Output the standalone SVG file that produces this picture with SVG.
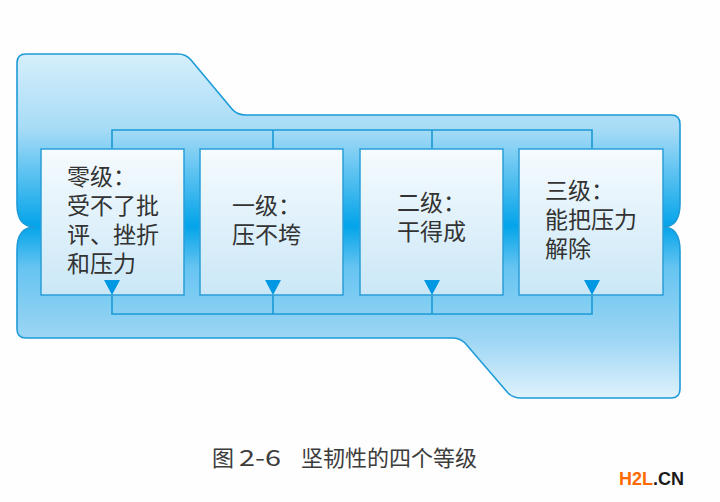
<svg xmlns="http://www.w3.org/2000/svg" width="720" height="502" viewBox="0 0 720 502">
<defs>
<linearGradient id="bg" gradientUnits="userSpaceOnUse" x1="0" y1="54" x2="0" y2="398">
<stop offset="0" stop-color="#d6effb"/>
<stop offset="0.22" stop-color="#a6dbf6"/>
<stop offset="0.5" stop-color="#03a4ea"/>
<stop offset="0.62" stop-color="#66c4f1"/>
<stop offset="0.83" stop-color="#9dd6f4"/>
<stop offset="1" stop-color="#dff2fc"/>
</linearGradient>
<linearGradient id="box" x1="0" y1="0" x2="0" y2="1">
<stop offset="0" stop-color="#f6fbfe"/>
<stop offset="1" stop-color="#cae7f7"/>
</linearGradient>
<style>
.box{fill:url(#box);stroke:#2a9fd8;stroke-width:1.5}
.t{font-family:"Noto Sans CJK SC","Noto Sans",sans-serif;font-size:23px;fill:#333}
.cap{font-family:"Noto Sans CJK SC","Noto Sans",sans-serif;font-size:22px;fill:#3c3c3c}
.ln{fill:none;stroke:#1a9ad6;stroke-width:1.6}
.tri{fill:#0098e2}
</style>
</defs>
<rect width="720" height="502" fill="#fefefe"/>
<path id="frame" d="M17,63 Q17,54 26,54 L178,54 Q186,54 191,60 L232,109 Q237,115 246,115 L671,115 Q680,115 680,124 L680,203 Q680,227 663,227 Q680,227 680,251 L680,389 Q680,398 671,398 L521,398 Q513,398 508,393 L465,343 Q460,338 452,338 L26,338 Q17,338 17,329 L17,250 Q17,227 35,227 Q17,227 17,204 Z" fill="url(#bg)" stroke="#1d9bd8" stroke-width="1.6"/>
<g id="connectors">
<path class="ln" d="M112,149 V130 H592 V149 M273,130 V149 M432,130 V149"/>
<path class="ln" d="M112,295 V314 H592 V295 M273,314 V295 M432,314 V295"/>
</g>
<g id="n0">
<rect class="box" x="41" y="149" width="143" height="146"/>
<path class="tri" d="M104,280 H120 L112,295 Z"/>
<text class="t"><tspan x="67" y="185">零级：</tspan><tspan x="67" y="214">受不了批</tspan><tspan x="67" y="243">评、挫折</tspan><tspan x="67" y="272">和压力</tspan></text>
</g>
<g id="n1">
<rect class="box" x="200" y="149" width="143" height="146"/>
<path class="tri" d="M265,280 H281 L273,295 Z"/>
<text class="t"><tspan x="232" y="214">一级：</tspan><tspan x="232" y="243">压不垮</tspan></text>
</g>
<g id="n2">
<rect class="box" x="360" y="149" width="143" height="146"/>
<path class="tri" d="M424,280 H440 L432,295 Z"/>
<text class="t"><tspan x="397" y="211">二级：</tspan><tspan x="397" y="240">干得成</tspan></text>
</g>
<g id="n3">
<rect class="box" x="519" y="149" width="144" height="146"/>
<path class="tri" d="M584,280 H600 L592,295 Z"/>
<text class="t"><tspan x="545" y="199">三级：</tspan><tspan x="545" y="228">能把压力</tspan><tspan x="545" y="257">解除</tspan></text>
</g>
<g id="caption">
<text class="cap" x="212" y="466">图</text>
<text class="cap" x="239" y="466" font-size="26" textLength="42" lengthAdjust="spacingAndGlyphs">2-6</text>
<text class="cap" x="301" y="466">坚韧性的四个等级</text>
</g>
<text x="619" y="485" font-family="'Liberation Sans',Arial,sans-serif" font-size="18" font-weight="bold"><tspan fill="#ff6a00">H2L</tspan><tspan fill="#1a1a1a">.CN</tspan></text>
</svg>
